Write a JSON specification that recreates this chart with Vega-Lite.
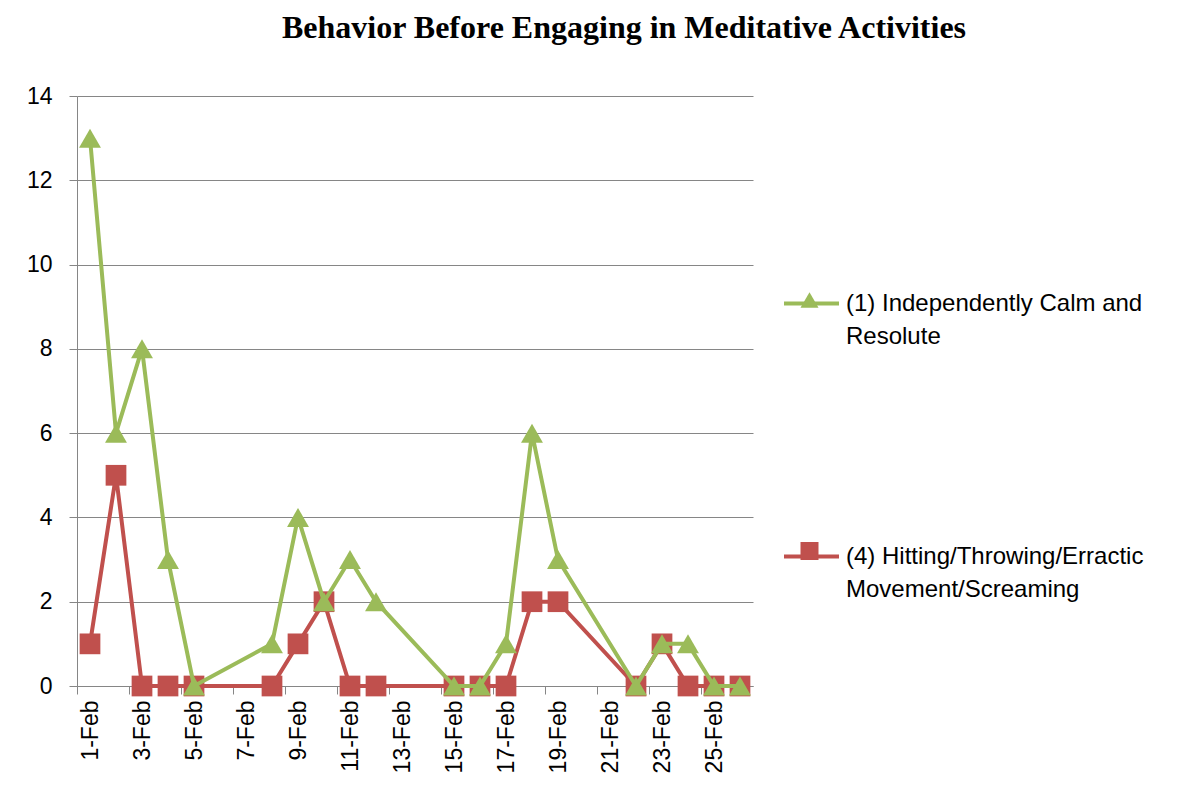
{
  "$schema": "https://vega.github.io/schema/vega-lite/v6.json",
  "width": 676,
  "height": 590,
  "autosize": {"type": "none"},
  "padding": {"left": 77, "top": 96, "right": 434, "bottom": 107},
  "background": "white",
  "title": {
    "text": "Behavior Before Engaging in Meditative Activities",
    "font": "Liberation Serif",
    "fontSize": 32,
    "fontWeight": "bold",
    "color": "#000000",
    "anchor": "middle",
    "frame": "group",
    "dx": 209,
    "offset": 40
  },
  "config": {
    "view": {"stroke": null},
    "axis": {"labelFont": "Liberation Sans", "labelFontSize": 23, "labelColor": "#000000"},
    "style": {"guide-label": {"lineHeight": 33}}
  },
  "data": {
    "values": [
      {"date": "2010-02-01", "series": "(1) Independently Calm and Resolute", "count": 13},
      {"date": "2010-02-02", "series": "(1) Independently Calm and Resolute", "count": 6},
      {"date": "2010-02-03", "series": "(1) Independently Calm and Resolute", "count": 8},
      {"date": "2010-02-04", "series": "(1) Independently Calm and Resolute", "count": 3},
      {"date": "2010-02-05", "series": "(1) Independently Calm and Resolute", "count": 0},
      {"date": "2010-02-08", "series": "(1) Independently Calm and Resolute", "count": 1},
      {"date": "2010-02-09", "series": "(1) Independently Calm and Resolute", "count": 4},
      {"date": "2010-02-10", "series": "(1) Independently Calm and Resolute", "count": 2},
      {"date": "2010-02-11", "series": "(1) Independently Calm and Resolute", "count": 3},
      {"date": "2010-02-12", "series": "(1) Independently Calm and Resolute", "count": 2},
      {"date": "2010-02-15", "series": "(1) Independently Calm and Resolute", "count": 0},
      {"date": "2010-02-16", "series": "(1) Independently Calm and Resolute", "count": 0},
      {"date": "2010-02-17", "series": "(1) Independently Calm and Resolute", "count": 1},
      {"date": "2010-02-18", "series": "(1) Independently Calm and Resolute", "count": 6},
      {"date": "2010-02-19", "series": "(1) Independently Calm and Resolute", "count": 3},
      {"date": "2010-02-22", "series": "(1) Independently Calm and Resolute", "count": 0},
      {"date": "2010-02-23", "series": "(1) Independently Calm and Resolute", "count": 1},
      {"date": "2010-02-24", "series": "(1) Independently Calm and Resolute", "count": 1},
      {"date": "2010-02-25", "series": "(1) Independently Calm and Resolute", "count": 0},
      {"date": "2010-02-26", "series": "(1) Independently Calm and Resolute", "count": 0},
      {"date": "2010-02-01", "series": "(4) Hitting/Throwing/Erractic Movement/Screaming", "count": 1},
      {"date": "2010-02-02", "series": "(4) Hitting/Throwing/Erractic Movement/Screaming", "count": 5},
      {"date": "2010-02-03", "series": "(4) Hitting/Throwing/Erractic Movement/Screaming", "count": 0},
      {"date": "2010-02-04", "series": "(4) Hitting/Throwing/Erractic Movement/Screaming", "count": 0},
      {"date": "2010-02-05", "series": "(4) Hitting/Throwing/Erractic Movement/Screaming", "count": 0},
      {"date": "2010-02-08", "series": "(4) Hitting/Throwing/Erractic Movement/Screaming", "count": 0},
      {"date": "2010-02-09", "series": "(4) Hitting/Throwing/Erractic Movement/Screaming", "count": 1},
      {"date": "2010-02-10", "series": "(4) Hitting/Throwing/Erractic Movement/Screaming", "count": 2},
      {"date": "2010-02-11", "series": "(4) Hitting/Throwing/Erractic Movement/Screaming", "count": 0},
      {"date": "2010-02-12", "series": "(4) Hitting/Throwing/Erractic Movement/Screaming", "count": 0},
      {"date": "2010-02-15", "series": "(4) Hitting/Throwing/Erractic Movement/Screaming", "count": 0},
      {"date": "2010-02-16", "series": "(4) Hitting/Throwing/Erractic Movement/Screaming", "count": 0},
      {"date": "2010-02-17", "series": "(4) Hitting/Throwing/Erractic Movement/Screaming", "count": 0},
      {"date": "2010-02-18", "series": "(4) Hitting/Throwing/Erractic Movement/Screaming", "count": 2},
      {"date": "2010-02-19", "series": "(4) Hitting/Throwing/Erractic Movement/Screaming", "count": 2},
      {"date": "2010-02-22", "series": "(4) Hitting/Throwing/Erractic Movement/Screaming", "count": 0},
      {"date": "2010-02-23", "series": "(4) Hitting/Throwing/Erractic Movement/Screaming", "count": 1},
      {"date": "2010-02-24", "series": "(4) Hitting/Throwing/Erractic Movement/Screaming", "count": 0},
      {"date": "2010-02-25", "series": "(4) Hitting/Throwing/Erractic Movement/Screaming", "count": 0},
      {"date": "2010-02-26", "series": "(4) Hitting/Throwing/Erractic Movement/Screaming", "count": 0}
    ]
  },
  "encoding": {
    "x": {
      "field": "date",
      "type": "temporal",
      "scale": {
        "type": "utc",
        "domain": [
          {"year": 2010, "month": 1, "date": 31, "hours": 12, "utc": true},
          {"year": 2010, "month": 2, "date": 26, "hours": 12, "utc": true}
        ]
      },
      "axis": {
        "title": null,
        "values": [
          {"year": 2010, "month": 2, "date": 1, "utc": true},
          {"year": 2010, "month": 2, "date": 3, "utc": true},
          {"year": 2010, "month": 2, "date": 5, "utc": true},
          {"year": 2010, "month": 2, "date": 7, "utc": true},
          {"year": 2010, "month": 2, "date": 9, "utc": true},
          {"year": 2010, "month": 2, "date": 11, "utc": true},
          {"year": 2010, "month": 2, "date": 13, "utc": true},
          {"year": 2010, "month": 2, "date": 15, "utc": true},
          {"year": 2010, "month": 2, "date": 17, "utc": true},
          {"year": 2010, "month": 2, "date": 19, "utc": true},
          {"year": 2010, "month": 2, "date": 21, "utc": true},
          {"year": 2010, "month": 2, "date": 23, "utc": true},
          {"year": 2010, "month": 2, "date": 25, "utc": true}
        ],
        "labelExpr": "utcFormat(datum.value, '%-d-%b')",
        "labelAngle": -90,
        "tickOffset": -13,
        "labelOffset": 13,
        "grid": false,
        "domainColor": "#868686",
        "tickColor": "#868686",
        "tickSize": 8,
        "labelPadding": 6,
        "labelOverlap": false,
        "labelFlush": false
      }
    },
    "y": {
      "field": "count",
      "type": "quantitative",
      "scale": {"domain": [0, 14], "nice": false},
      "axis": {
        "title": null,
        "values": [0, 2, 4, 6, 8, 10, 12, 14],
        "grid": true,
        "gridColor": "#868686",
        "domainColor": "#868686",
        "tickColor": "#868686",
        "tickSize": 8,
        "labelPadding": 17
      }
    }
  },
  "layer": [
    {
      "transform": [{"filter": "indexof(datum.series,'Hitting')>=0"}],
      "mark": {"type": "line", "strokeWidth": 4},
      "encoding": {
        "stroke": {
          "field": "series",
          "type": "nominal",
          "scale": {
            "domain": ["(1) Independently Calm and Resolute", "(4) Hitting/Throwing/Erractic Movement/Screaming"],
            "range": ["#9BBB59", "#C0504D"]
          },
          "legend": {
            "orient": "none",
            "legendX": 705,
            "legendY": 178,
            "title": null,
            "padding": 0,
            "symbolType": "M-1,0H1",
            "symbolSize": 3025,
            "symbolStrokeWidth": 4,
            "labelFont": "Liberation Sans",
            "labelFontSize": 24,
            "labelColor": "#000000",
            "labelLimit": 400,
            "labelOffset": 5,
            "rowPadding": 178,
            "labelBaseline": "middle",
            "labelExpr": "indexof(datum.value,'Calm')>=0 ? ['(1) Independently Calm and','Resolute'] : ['(4) Hitting/Throwing/Erractic','Movement/Screaming']"
          }
        }
      }
    },
    {
      "transform": [{"filter": "indexof(datum.series,'Hitting')>=0"}],
      "mark": {"type": "point", "filled": true, "opacity": 1, "size": 430},
      "encoding": {
        "fill": {
          "field": "series",
          "type": "nominal",
          "scale": {"range": ["#9BBB59", "#C0504D"]},
          "legend": {
            "orient": "none",
            "legendX": 723.5,
            "legendY": 195,
            "title": null,
            "padding": 0,
            "symbolSize": 324,
            "symbolStrokeWidth": 0,
            "labelFontSize": 1,
            "labelOffset": 0,
            "rowPadding": 234,
            "labelExpr": "''"
          }
        },
        "shape": {
          "field": "series",
          "type": "nominal",
          "scale": {"range": ["triangle-up", "square"]},
          "legend": {
            "orient": "none",
            "legendX": 723.5,
            "legendY": 195,
            "title": null,
            "padding": 0,
            "symbolSize": 324,
            "symbolStrokeWidth": 0,
            "labelFontSize": 1,
            "labelOffset": 0,
            "rowPadding": 234,
            "labelExpr": "''"
          }
        }
      }
    },
    {
      "transform": [{"filter": "indexof(datum.series,'Calm')>=0"}],
      "mark": {"type": "line", "strokeWidth": 4},
      "encoding": {
        "stroke": {"field": "series", "type": "nominal"}
      }
    },
    {
      "transform": [{"filter": "indexof(datum.series,'Calm')>=0"}],
      "mark": {"type": "point", "filled": true, "opacity": 1, "size": 480},
      "encoding": {
        "fill": {"field": "series", "type": "nominal"},
        "shape": {"field": "series", "type": "nominal"}
      }
    }
  ]
}
